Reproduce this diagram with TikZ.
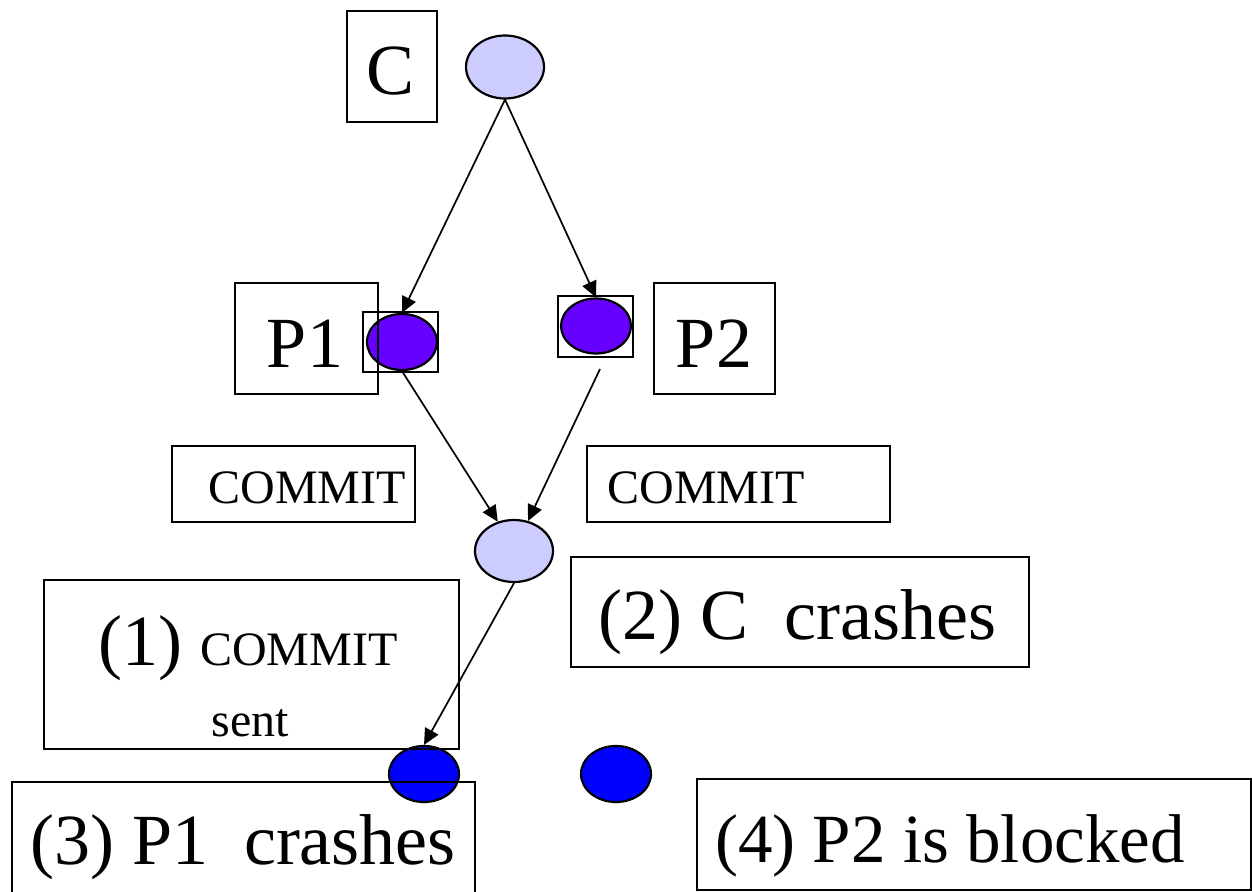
\documentclass[tikz,border=0pt]{standalone}
\usepackage{fontspec}
\setmainfont{Liberation Serif}
\usetikzlibrary{shapes.geometric,arrows.meta}
\definecolor{lightnode}{HTML}{CCCCFF}
\definecolor{purplenode}{HTML}{6600FF}
\definecolor{bluenode}{HTML}{0000FF}
\tikzset{
  oval/.style={ellipse, draw=black, line width=2.2pt, inner sep=0pt},
  frame/.style={draw=black, line width=1.8pt, inner sep=0pt},
  big/.style={font=\fontsize{72}{80}\selectfont, anchor=base, inner sep=0pt},
  small/.style={font=\fontsize{48}{54}\selectfont, anchor=base, inner sep=0pt},
  conn/.style={line width=1.7pt, -{Triangle[length=16pt,width=15pt]}}
}
\begin{document}
\begin{tikzpicture}[x=1pt,y=-1pt]
\useasboundingbox (0,0) rectangle (1252,891);
% ellipses
\node[oval, fill=lightnode, minimum width=78, minimum height=63] (cE) at (505,67) {};
\node[oval, fill=purplenode, minimum width=70, minimum height=56] (p1E) at (402,342) {};
\node[oval, fill=purplenode, minimum width=70, minimum height=55] (p2E) at (596,326) {};
\node[oval, fill=lightnode, minimum width=78, minimum height=62] (mE) at (514,551) {};
\node[oval, fill=bluenode, minimum width=70, minimum height=56] (blE) at (424,774) {};
\node[oval, fill=bluenode, minimum width=70, minimum height=56] (brE) at (616,774) {};
% frames
\node[frame, minimum width=90, minimum height=111] (cBox) at (392,66.5) {};
\node[frame, minimum width=143, minimum height=111] (p1Box) at (306.5,338.5) {};
\node[frame, minimum width=75, minimum height=60] (p1Small) at (400.5,342) {};
\node[frame, minimum width=75, minimum height=61] (p2Small) at (595.5,326.5) {};
\node[frame, minimum width=121, minimum height=111] (p2Box) at (714.5,338.5) {};
\node[frame, minimum width=243, minimum height=76] (cmL) at (293.5,484) {};
\node[frame, minimum width=303, minimum height=76] (cmR) at (738.5,484) {};
\node[frame, minimum width=458, minimum height=110] (s2Box) at (800,612) {};
\node[frame, minimum width=415, minimum height=169] (s1Box) at (251.5,664.5) {};
\node[frame, minimum width=463, minimum height=115] (s3Box) at (243.5,839.5) {};
\node[frame, minimum width=554, minimum height=111] (s4Box) at (974,834.5) {};
% texts
\node[big] (cT) at (391,94) {C};
\node[big] (p1T) at (305,367) {P1};
\node[big] (p2T) at (714,367) {P2};
\node[small] (cmLT) at (307,503) {COMMIT};
\node[small] (cmRT) at (706,503) {COMMIT};
\node[anchor=base, inner sep=0pt] (s1T) at (248,665) {{\fontsize{72}{80}\selectfont (1)}\hspace{18pt}{\fontsize{48}{54}\selectfont COMMIT}};
\node[small] (s1T2) at (250,736) {sent};
\node[big] (s2T) at (797.5,639) {(2) C\ \ crashes};
\node[big] (s3T) at (243,864) {(3) P1\ \ crashes};
\node[big, font=\fontsize{69}{78}\selectfont] (s4T) at (950,862) {(4) P2 is blocked};
% connectors
\coordinate (p2Out) at (600,369);
\draw[conn] (cE.south) -- (p1E.north);
\draw[conn] (cE.south) -- (p2E.north);
\draw[conn] (p1E.south) -- (mE.119);
\draw[conn] (p2Out) -- (mE.65);
\draw[conn] (mE.south) -- (blE.north);
\end{tikzpicture}
\end{document}
